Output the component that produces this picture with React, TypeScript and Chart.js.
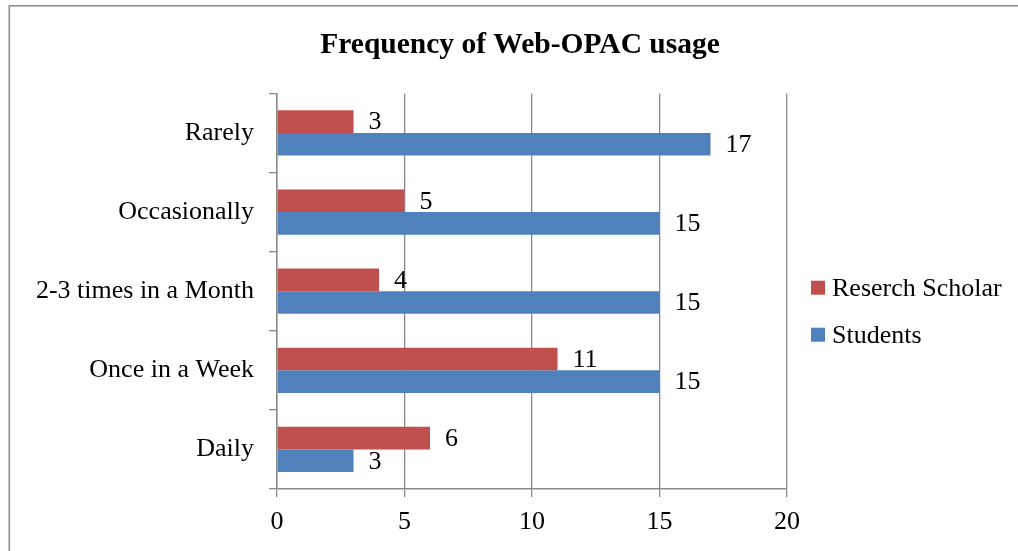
import React, { useEffect, useRef } from "react";
import { Chart, registerables } from "chart.js";

Chart.register(...registerables);

const categories = ["Rarely", "Occasionally", "2-3 times in a Month", "Once in a Week", "Daily"];
const scholarValues = [3, 5, 4, 11, 6];
const studentValues = [17, 15, 15, 15, 3];
const seriesNames = ["Reserch Scholar", "Students"];
const xTicks = [0, 5, 10, 15, 20];

const FONT = "'Liberation Serif', 'Times New Roman', serif";
const GRID = "#8a8a8a";
const CANVAS_W = 1040;
const CANVAS_H = 551;

const borderPlugin = {
  id: "outerBorder",
  beforeDraw(chart: any) {
    const ctx = chart.ctx;
    ctx.save();
    ctx.fillStyle = "#ffffff";
    ctx.fillRect(0, 0, chart.width, chart.height);
    ctx.strokeStyle = "#8f8f8f";
    ctx.lineWidth = 1.6;
    ctx.strokeRect(9.3, 5.8, chart.width + 50, chart.height + 50);
    ctx.restore();
  },
};

const valueLabelPlugin = {
  id: "valueLabels",
  afterDatasetsDraw(chart: any) {
    const ctx = chart.ctx;
    ctx.save();
    ctx.font = `26px ${FONT}`;
    ctx.fillStyle = "#000";
    ctx.textAlign = "left";
    ctx.textBaseline = "middle";
    chart.data.datasets.forEach((ds: any, i: number) => {
      const meta = chart.getDatasetMeta(i);
      meta.data.forEach((bar: any, j: number) => {
        ctx.fillText(String(ds.data[j]), bar.x + 15, bar.y + 1);
      });
    });
    ctx.restore();
  },
};

const customLegendPlugin = {
  id: "customLegend",
  afterDraw(chart: any) {
    const ctx = chart.ctx;
    const area = chart.chartArea;
    const cx = area.right + 24;
    const mid = (area.top + area.bottom) / 2 + 20;
    ctx.save();
    ctx.font = `26px ${FONT}`;
    ctx.textAlign = "left";
    ctx.textBaseline = "middle";
    chart.data.datasets.forEach((ds: any, i: number) => {
      const cy = mid + (i - 0.5) * 47;
      ctx.fillStyle = ds.backgroundColor;
      ctx.fillRect(cx, cy - 7, 14, 14);
      ctx.fillStyle = "#000";
      ctx.fillText(ds.label, cx + 21, cy + 1);
    });
    ctx.restore();
  },
};

export default function App() {
  const ref = useRef<HTMLCanvasElement | null>(null);
  useEffect(() => {
    if (!ref.current) return;
    const chart = new Chart(ref.current, {
      type: "bar",
      data: {
        labels: categories,
        datasets: [
          {
            label: seriesNames[0],
            data: scholarValues,
            backgroundColor: "#C0504D",
            borderWidth: 0,
            categoryPercentage: 0.571,
            barPercentage: 1.0,
          },
          {
            label: seriesNames[1],
            data: studentValues,
            backgroundColor: "#4F81BD",
            borderWidth: 0,
            categoryPercentage: 0.571,
            barPercentage: 1.0,
          },
        ],
      },
      options: {
        indexAxis: "y",
        responsive: false,
        animation: false,
        layout: { padding: 0 },
        plugins: {
          legend: { display: false },
          tooltip: { enabled: false },
          title: {
            display: true,
            text: "Frequency of Web-OPAC usage",
            color: "#000",
            font: { family: FONT, size: 29.5, weight: "bold" },
            padding: { top: 28, bottom: 30 },
          },
        },
        scales: {
          x: {
            type: "linear",
            min: xTicks[0],
            max: xTicks[xTicks.length - 1],
            afterBuildTicks(scale: any) {
              scale.ticks = xTicks.map((v) => ({ value: v }));
            },
            afterFit(scale: any) {
              scale.height = 62;
            },
            grid: {
              color: GRID,
              lineWidth: 1.3,
              drawTicks: true,
              tickLength: 8,
              tickColor: GRID,
            },
            border: { display: true, color: GRID, width: 1.5 },
            ticks: {
              color: "#000",
              font: { family: FONT, size: 26 },
              padding: 10,
            },
          },
          y: {
            type: "category",
            afterFit(scale: any) {
              scale.width = 277;
            },
            grid: {
              offset: true,
              drawOnChartArea: false,
              drawTicks: true,
              tickLength: 8,
              color: GRID,
              lineWidth: 1.3,
            },
            border: { display: true, color: GRID, width: 1.5 },
            ticks: {
              color: "#000",
              font: { family: FONT, size: 26 },
              padding: 15,
            },
          },
          legendSpace: {
            type: "linear",
            position: "right",
            display: true,
            afterFit(scale: any) {
              scale.width = CANVAS_W - 787;
            },
            grid: { display: false, drawTicks: false },
            border: { display: false },
            ticks: { display: false },
          },
        },
      },
      plugins: [borderPlugin, valueLabelPlugin, customLegendPlugin],
    } as any);
    return () => chart.destroy();
  }, []);

  return (
    <div style={{ position: "absolute", left: 0, top: 0, width: 1018, height: 551, overflow: "hidden" }}>
      <canvas ref={ref} width={CANVAS_W} height={CANVAS_H} style={{ display: "block" }} />
    </div>
  );
}
